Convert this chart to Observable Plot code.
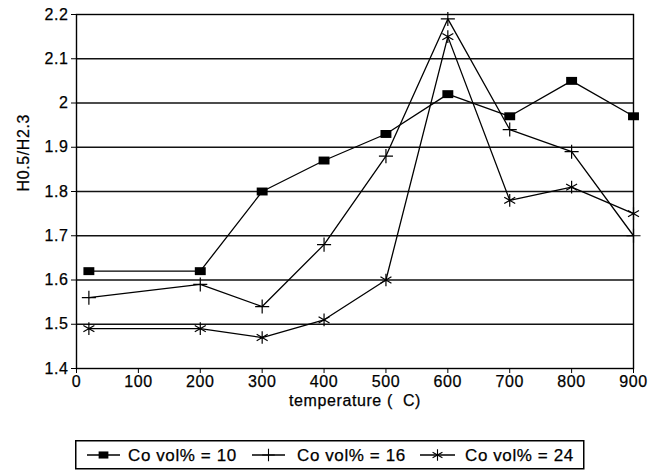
<!DOCTYPE html>
<html>
<head>
<meta charset="utf-8">
<script src="https://cdn.jsdelivr.net/npm/d3@7"></script>
<script src="https://cdn.jsdelivr.net/npm/@observablehq/plot@0.6"></script>
<style>
  body { margin: 0; background: #fff; }
  #wrap { position: relative; width: 662px; height: 472px; font-family: "Liberation Sans", Arial, sans-serif; color: #000; }
  #wrap svg text { letter-spacing: 0.6px; stroke: #000; stroke-width: 0.25px; }
  #legend { position: absolute; left: 75px; top: 440px; }
</style>
</head>
<body>
<div id="wrap"></div>
<script>
// Ratio H0.5/H2.3 versus annealing temperature, for three Co contents
const temperature = [20, 200, 300, 400, 500, 600, 700, 800, 900];
const co10 = [1.62, 1.62, 1.80, 1.87, 1.93, 2.02, 1.97, 2.05, 1.97];
const co16 = [1.56, 1.59, 1.54, 1.68, 1.88, 2.19, 1.94, 1.89, 1.70];
const co24 = [1.49, 1.49, 1.47, 1.51, 1.60, 2.15, 1.78, 1.81, 1.75];
const seriesNames = ["Co vol% = 10", "Co vol% = 16", "Co vol% = 24"];
const xTicks = [0, 100, 200, 300, 400, 500, 600, 700, 800, 900];
const yTicks = [1.4, 1.5, 1.6, 1.7, 1.8, 1.9, 2.0, 2.1, 2.2];
const xLabel = "temperature (  C)";
const yLabel = "H0.5/H2.3";

// filled, slightly wide rectangle marker
const rectSymbol = {
  draw(ctx, size) {
    const s = Math.sqrt(size), w = s * 0.55, h = s * 0.4;
    ctx.moveTo(-w, -h); ctx.lineTo(w, -h); ctx.lineTo(w, h); ctx.lineTo(-w, h); ctx.closePath();
  }
};

const seriesStyle = [
  {values: co10, symbol: rectSymbol, fill: "#000", stroke: "none", r: 5.6},
  {values: co16, symbol: "plus", fill: "none", stroke: "#000", r: 4.6},
  {values: co24, symbol: "asterisk", fill: "none", stroke: "#000", r: 6}
];

const rows = seriesStyle.flatMap((s, i) =>
  temperature.map((t, j) => ({series: seriesNames[i], t, v: s.values[j]})));

const fmt = d => String(+d.toFixed(1));

const marks = [
  Plot.ruleY(yTicks.slice(1, -1), {stroke: "#111", strokeWidth: 1.3}),
  Plot.frame({stroke: "#000", strokeWidth: 1.4}),
  Plot.axisX(xTicks, {tickSize: 5, tickPadding: 2, fontSize: 16, label: null}),
  Plot.axisY(yTicks, {tickSize: 5, tickPadding: 3, fontSize: 16, label: null, tickFormat: fmt}),
  Plot.text([xLabel], {frameAnchor: "bottom", dy: 37, fontSize: 16}),
  Plot.text([yLabel], {frameAnchor: "left", dx: -53, rotate: -90, fontSize: 16})
];
seriesStyle.forEach((s, i) => {
  const data = rows.filter(d => d.series === seriesNames[i]);
  marks.push(Plot.line(data, {x: "t", y: "v", stroke: "#000", strokeWidth: 1.3}));
  marks.push(Plot.dot(data, {x: "t", y: "v", symbol: () => s.symbol, r: s.r,
    fill: s.fill, stroke: s.stroke, strokeWidth: 1.2}));
});

const chart = Plot.plot({
  width: 662,
  height: 420,
  marginLeft: 76,
  marginRight: 29,
  marginTop: 14,
  marginBottom: 52,
  style: {fontFamily: "Liberation Sans, Arial, sans-serif", fontSize: "16px", color: "#000", background: "#fff"},
  x: {domain: [0, 900], label: null},
  y: {domain: [1.4, 2.2], label: null},
  symbol: {type: "identity"},
  marks
});
document.getElementById("wrap").appendChild(chart);

// boxed legend below the chart
const lw = 508, lh = 28;
const lineX = [12, 177, 345];
const lineLen = [33, 33, 35];
const textX = [53, 222, 390];
const leg = d3.select("#wrap").append("svg")
  .attr("id", "legend").attr("width", lw + 2).attr("height", lh + 2);
leg.append("rect").attr("x", 0.75).attr("y", 0.75).attr("width", lw).attr("height", lh)
  .attr("fill", "#fff").attr("stroke", "#000").attr("stroke-width", 1.5);
const symbolFor = s => typeof s === "string"
  ? (s === "plus" ? d3.symbolPlus : d3.symbolAsterisk) : s;
seriesStyle.forEach((s, i) => {
  const g = leg.append("g").attr("transform", `translate(0,${lh / 2 + 1})`);
  g.append("line").attr("x1", lineX[i]).attr("x2", lineX[i] + lineLen[i])
    .attr("stroke", "#000").attr("stroke-width", 1.3);
  g.append("path").attr("transform", `translate(${lineX[i] + lineLen[i] / 2},0)`)
    .attr("d", d3.symbol(symbolFor(s.symbol), Math.PI * s.r * s.r * 0.8)())
    .attr("fill", s.fill).attr("stroke", s.stroke).attr("stroke-width", 1.1);
  g.append("text").attr("x", textX[i]).attr("dy", "0.35em")
    .attr("font-family", "Liberation Sans, Arial, sans-serif").attr("font-size", 17)
    .text(seriesNames[i]);
});
</script>
</body>
</html>
